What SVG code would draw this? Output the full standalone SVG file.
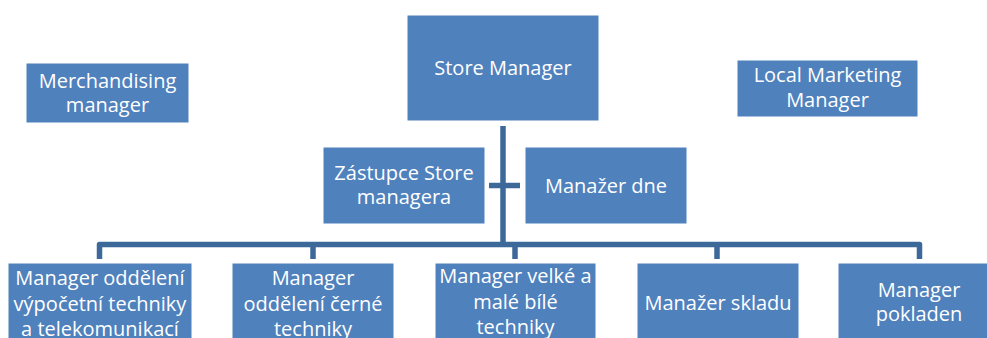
<svg xmlns="http://www.w3.org/2000/svg" width="987" height="338" viewBox="0 0 987 338">
<style>
.box{fill:#4F81BD;stroke:#ffffff;stroke-width:1}
.t{font-family:"Open Sans","Liberation Sans",sans-serif;font-size:20px;fill:#ffffff;text-anchor:middle}
.c{fill:none;stroke:#3D689A;stroke-width:5.5;stroke-linejoin:round}
</style>
<rect width="987" height="338" fill="#ffffff"/>
<g id="connectors">
<path class="c" d="M503,126 V244.5"/>
<path class="c" d="M489,185.5 H520"/>
<path class="c" d="M99.5,259 V244.5 H919.5 V259"/>
<path class="c" d="M313,244.5 V259"/>
<path class="c" d="M515,244.5 V259"/>
<path class="c" d="M717,244.5 V259"/>
</g>
<g id="store-manager">
<rect class="box" x="407" y="15" width="192" height="106"/>
<text class="t" x="503" y="75">Store Manager</text>
</g>
<g id="merchandising-manager">
<rect class="box" x="26" y="63" width="163" height="60"/>
<text class="t" x="107.5" y="88">Merchandising</text>
<text class="t" x="107.5" y="112">manager</text>
</g>
<g id="local-marketing-manager">
<rect class="box" x="737" y="60" width="181" height="57"/>
<text class="t" x="827.5" y="82">Local Marketing</text>
<text class="t" x="827.5" y="107">Manager</text>
</g>
<g id="zastupce">
<rect class="box" x="323" y="147" width="162" height="77"/>
<text class="t" x="404" y="180">Zástupce Store</text>
<text class="t" x="404" y="204">managera</text>
</g>
<g id="manazer-dne">
<rect class="box" x="525" y="147" width="162" height="77"/>
<text class="t" x="606" y="193">Manažer dne</text>
</g>
<g id="manager-vypocetni">
<rect class="box" x="8" y="263" width="184" height="80"/>
<text class="t" x="100" y="285">Manager oddělení</text>
<text class="t" x="100" y="310.5">výpočetní techniky</text>
<text class="t" x="100" y="336">a telekomunikací</text>
</g>
<g id="manager-cerne">
<rect class="box" x="232" y="263" width="162" height="80"/>
<text class="t" x="313" y="285">Manager</text>
<text class="t" x="313" y="310.5">oddělení černé</text>
<text class="t" x="313" y="336">techniky</text>
</g>
<g id="manager-bile">
<rect class="box" x="435" y="263" width="161" height="80"/>
<text class="t" x="515.5" y="283">Manager velké a</text>
<text class="t" x="515.5" y="308.5">malé bílé</text>
<text class="t" x="515.5" y="334">techniky</text>
</g>
<g id="manazer-skladu">
<rect class="box" x="637" y="263" width="162" height="80"/>
<text class="t" x="718" y="310">Manažer skladu</text>
</g>
<g id="manager-pokladen">
<rect class="box" x="838" y="263" width="162" height="80"/>
<text class="t" x="919" y="297">Manager</text>
<text class="t" x="919" y="321">pokladen</text>
</g>
</svg>
